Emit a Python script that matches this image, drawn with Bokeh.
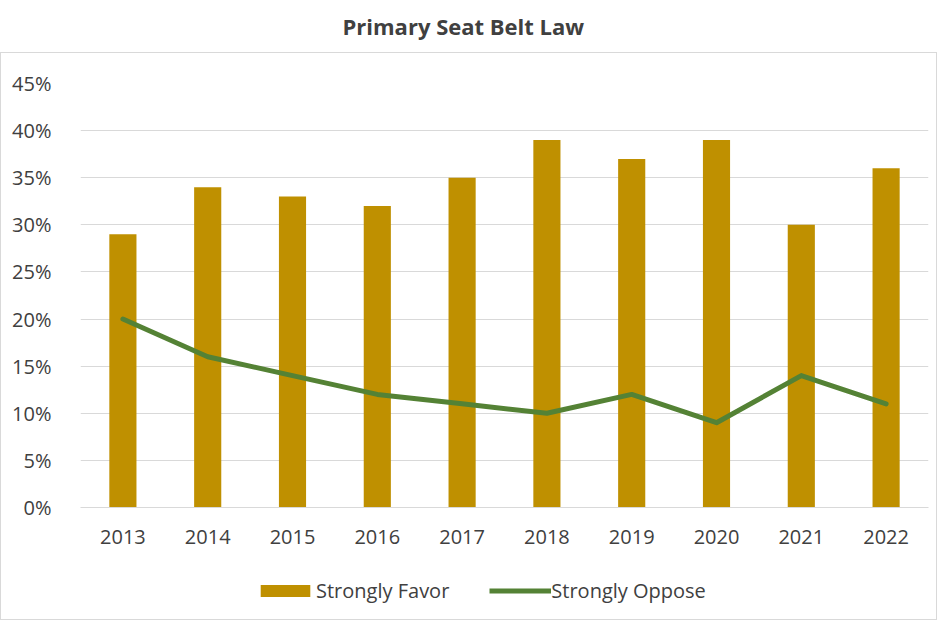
from bokeh.plotting import figure
from bokeh.layouts import column
from bokeh.models import (Legend, LegendItem, Range1d, NumeralTickFormatter,
                          FixedTicker, ColumnDataSource)
from bokeh.embed import file_html
from bokeh.resources import INLINE

# ---- data ----
years = ["2013", "2014", "2015", "2016", "2017", "2018", "2019", "2020", "2021", "2022"]
strongly_favor = [0.29, 0.34, 0.33, 0.32, 0.35, 0.39, 0.37, 0.39, 0.30, 0.36]
strongly_oppose = [0.20, 0.16, 0.14, 0.12, 0.11, 0.10, 0.12, 0.09, 0.14, 0.11]
y_ticks = [0.0, 0.05, 0.10, 0.15, 0.20, 0.25, 0.30, 0.35, 0.40, 0.45]
series_names = ["Strongly Favor", "Strongly Oppose"]

FONT = "Open Sans"
TXT = "#404040"
GRID = "#d9d9d9"
GOLD = "#BF9000"
GREEN = "#548235"

src = ColumnDataSource(dict(year=years, favor=strongly_favor, oppose=strongly_oppose))

# ---- title ----
t = figure(width=937, height=52, title="Primary Seat Belt Law", toolbar_location=None,
           output_backend="svg", x_range=Range1d(0, 1), y_range=Range1d(0, 1),
           x_axis_location=None, y_axis_location=None,
           min_border_left=80, min_border_right=9, min_border_bottom=0, min_border_top=42)
t.title.align = "left"
t.title.offset = 262
t.title.text_font = FONT
t.title.text_font_size = "22px"
t.title.text_font_style = "bold"
t.title.text_color = TXT
t.title.standoff = 3
t.grid.visible = False
t.outline_line_color = None
t.scatter([0.5], [0.5], alpha=0)

# ---- main chart ----
p = figure(x_range=years, y_range=Range1d(0, 0.45), width=935, height=514,
           toolbar_location=None, output_backend="svg",
           min_border_left=79, min_border_right=8, min_border_top=30, min_border_bottom=60)
p.outline_line_color = None

bars = p.vbar(x="year", top="favor", width=0.32, source=src, color=GOLD, line_color=None)
line = p.line(x="year", y="oppose", source=src, line_color=GREEN, line_width=5,
              line_join="round", line_cap="round")

p.yaxis.ticker = FixedTicker(ticks=y_ticks)
p.yaxis.formatter = NumeralTickFormatter(format="0%")
p.ygrid.grid_line_color = GRID
p.xgrid.grid_line_color = None

for ax in (p.xaxis, p.yaxis):
    ax.major_tick_line_color = None
    ax.minor_tick_line_color = None
    ax.major_label_text_font = FONT
    ax.major_label_text_font_size = "20px"
    ax.major_label_text_color = TXT
p.yaxis.axis_line_color = None
p.xaxis.axis_line_color = GRID
p.yaxis.major_label_standoff = 23
p.xaxis.major_label_standoff = 16

# ---- legend strip (inside the same bordered box) ----
# swatch carriers reuse the series data; their values lie below this strip's range,
# so only the legend swatches are seen
lg = figure(width=935, height=52, toolbar_location=None, output_backend="svg",
            x_range=years, y_range=Range1d(1, 2),
            x_axis_location=None, y_axis_location=None,
            min_border_left=79, min_border_right=8, min_border_top=0, min_border_bottom=0)
lg.grid.visible = False
lg.outline_line_color = None
sw_bar = lg.vbar(x="year", top="favor", width=0.32, source=src, color=GOLD, line_color=None)
sw_line = lg.line(x="year", y="oppose", source=src, line_color=GREEN, line_width=5)

legend = Legend(items=[LegendItem(label=series_names[0], renderers=[sw_bar]),
                       LegendItem(label=series_names[1], renderers=[sw_line])],
                orientation="horizontal", location=(174, 15),
                border_line_color=None, background_fill_alpha=0,
                glyph_width=62, glyph_height=15, label_standoff=0, spacing=40,
                label_text_font=FONT, label_text_font_size="20px",
                label_text_color=TXT, padding=4, margin=0)
lg.add_layout(legend)

box = column(p, lg, spacing=0, styles={"border": "1px solid #d9d9d9"})
layout = column(t, box, spacing=0)
open("out.html", "w").write(file_html(layout, INLINE))
